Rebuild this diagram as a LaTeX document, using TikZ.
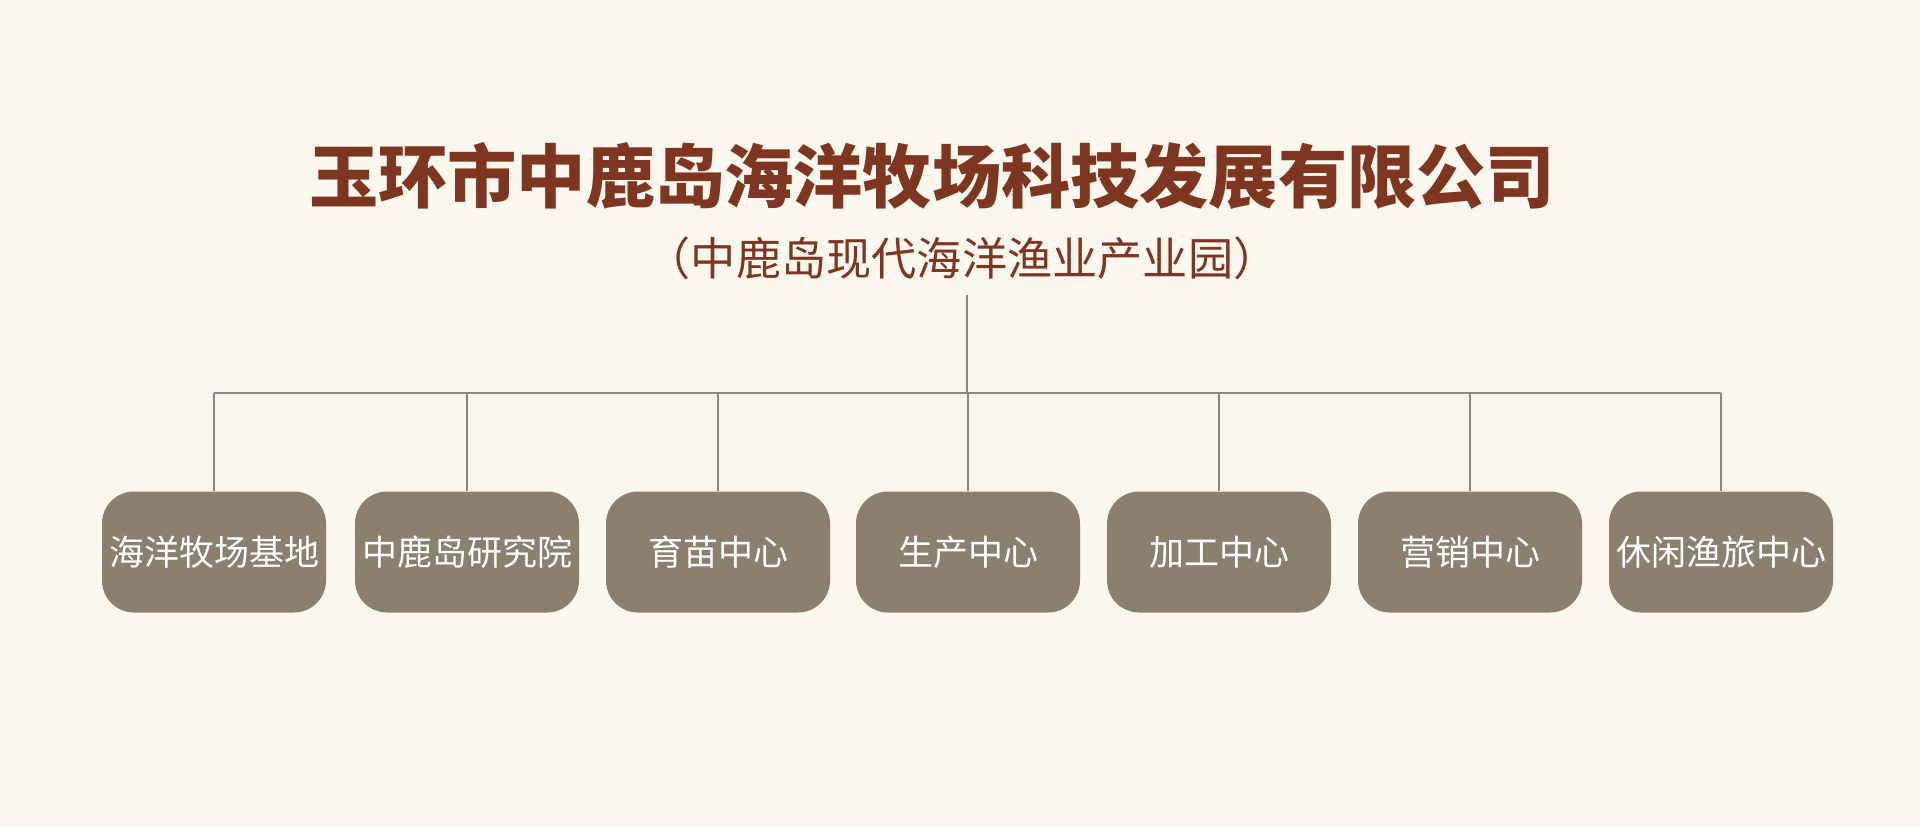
\documentclass[tikz,border=0pt]{standalone}
\usepackage{fontspec}
\newfontfamily\cjk{Noto Sans CJK SC}
\usepackage{tikz}
\usetikzlibrary{positioning}

\definecolor{paper}{RGB}{250,247,239}
\definecolor{brick}{RGB}{127,54,32}
\definecolor{taupe}{RGB}{139,127,110}
\definecolor{wire}{RGB}{136,136,136}

\tikzset{
  unit/.style={fill=taupe,rounded corners=16pt,minimum width=112pt,
    minimum height=60.5pt,inner sep=0pt,text=white,font=\cjk\fontsize{17.5}{19}\selectfont},
  link/.style={draw=wire,line width=0.8pt}
}

\begin{document}
\begin{tikzpicture}[x=0.5pt,y=-0.5pt]
\fill[paper] (0,0) rectangle (1920,827);
\useasboundingbox (0,0) rectangle (1920,827);
\node[text=brick,font=\cjk\bfseries\fontsize{34.6}{38}\selectfont] (title) at (932,176) {玉环市中鹿岛海洋牧场科技发展有限公司};
\node[text=brick,font=\cjk\fontsize{22.6}{25}\selectfont] (sub) at (962,258) {（中鹿岛现代海洋渔业产业园）};
\coordinate (stem) at (967,295);
\coordinate (bus) at (967,393);
% centres
\foreach \cx/\lbl [count=\i] in {214/海洋牧场基地,467/中鹿岛研究院,718/育苗中心,
    968/生产中心,1219/加工中心,1470/营销中心,1721/休闲渔旅中心}
  \node[unit] (u\i) at (\cx,552) {\raisebox{-2pt}{\lbl}};
\draw[link] (stem) -- (bus);
\draw[link] (u1.north |- bus) -- (u7.north |- bus);
\foreach \i in {1,...,7}
  \draw[link] (u\i.north) -- (u\i.north |- bus);
\end{tikzpicture}
\end{document}
